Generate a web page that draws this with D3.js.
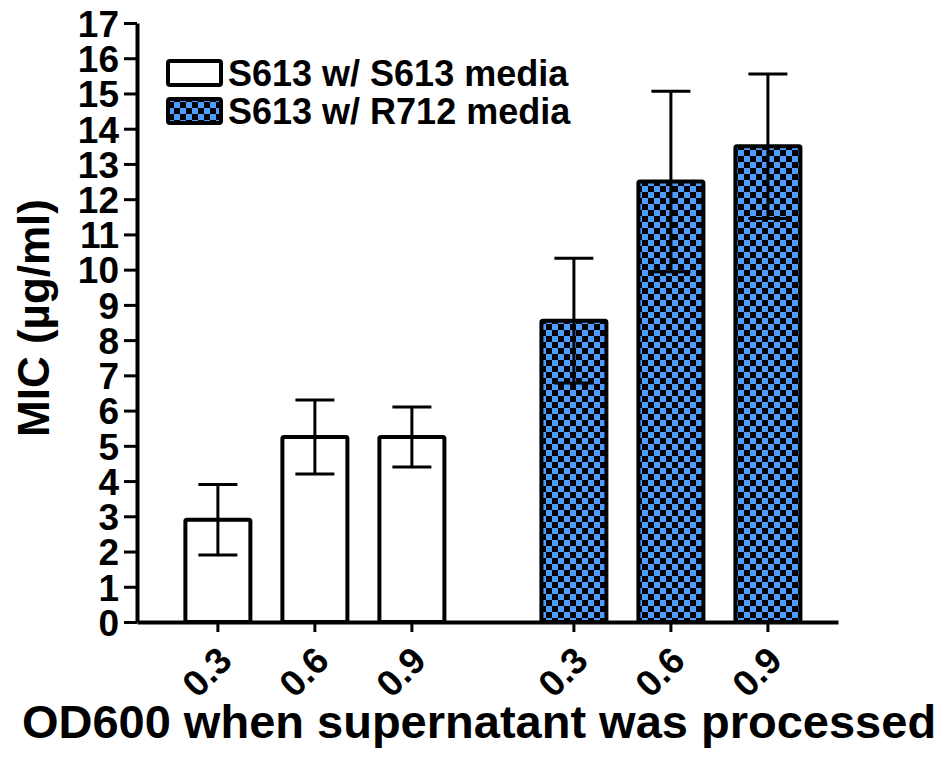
<!DOCTYPE html>
<html>
<head>
<meta charset="utf-8">
<script src="https://cdn.jsdelivr.net/npm/d3@7"></script>
<style>
  html, body { margin: 0; padding: 0; background: #fff; }
  svg { display: block; }
  text { font-family: "Liberation Sans", Arial, sans-serif; font-weight: bold; fill: #000; }
</style>
</head>
<body>
<svg id="chart" width="946" height="770"></svg>
<script>
// ---- data ----
const odLevels = ["0.3", "0.6", "0.9"];
const mediaGroups = ["S613 w/ S613 media", "S613 w/ R712 media"];
const meansS613 = [2.9, 5.25, 5.25];
const errS613 = [1.0, 1.05, 0.85];
const meansR712 = [8.55, 12.5, 13.5];
const errR712 = [1.77, 2.56, 2.05];
const yTickValues = [0, 1, 2, 3, 4, 5, 6, 7, 8, 9, 10, 11, 12, 13, 14, 15, 16, 17];
const yLabel = "MIC (µg/ml)";
const xLabel = "OD600 when supernatant was processed";

const seriesMeans = [meansS613, meansR712];
const seriesErrs = [errS613, errR712];
const rows = [];
mediaGroups.forEach((g, gi) => odLevels.forEach((od, i) => rows.push({
  group: g, od: od, mean: seriesMeans[gi][i], err: seriesErrs[gi][i], gi: gi
})));

const svg = d3.select("#chart");
const blue = "#4d9cff";

// pattern
const defs = svg.append("defs");
const pat = defs.append("pattern").attr("id", "checker")
  .attr("patternUnits", "userSpaceOnUse").attr("width", 12).attr("height", 12);
pat.append("rect").attr("width", 12).attr("height", 12).attr("fill", "#000");
pat.append("rect").attr("x", 0).attr("y", 0).attr("width", 6).attr("height", 6).attr("fill", blue);
pat.append("rect").attr("x", 6).attr("y", 6).attr("width", 6).attr("height", 6).attr("fill", blue);
const fills = ["#fff", "url(#checker)"];

// scales
const plotLeft = 137, plotRight = 838, plotBottom = 622, plotTop = 23;
const y = d3.scaleLinear().domain([0, 17]).range([plotBottom, plotTop]);
const x0 = d3.scaleBand().domain(mediaGroups).range([plotLeft, plotRight])
  .paddingInner(0.1826).paddingOuter(0.0758).align(0.6);
const x1 = d3.scaleBand().domain(odLevels).range([0, x0.bandwidth()])
  .paddingInner(0.33).paddingOuter(0.165);

// y axis
const yAxis = svg.append("g").attr("transform", `translate(${plotLeft},0)`)
  .call(d3.axisLeft(y).tickValues(yTickValues).tickSize(13).tickSizeOuter(0).tickPadding(5));
yAxis.select(".domain").attr("stroke", "#000").attr("stroke-width", 4);
yAxis.selectAll(".tick line").attr("stroke", "#000").attr("stroke-width", 3);
yAxis.selectAll(".tick text").style("font-size", "37px").attr("dy", "0.36em");

// bars
const gBars = svg.append("g");
gBars.selectAll("rect.bar").data(rows).join("rect").attr("class", "bar")
  .attr("x", d => x0(d.group) + x1(d.od))
  .attr("width", x1.bandwidth())
  .attr("y", d => y(d.mean))
  .attr("height", d => y(0) - y(d.mean))
  .attr("fill", d => fills[d.gi])
  .attr("stroke", "#000").attr("stroke-width", 4)
  .attr("rx", 1.5);

// error bars
const capHalf = 19.5;
const cx = d => x0(d.group) + x1(d.od) + x1.bandwidth() / 2;
const gErr = svg.append("g").attr("stroke", "#000").attr("stroke-width", 3);
gErr.selectAll("line.v").data(rows).join("line").attr("class", "v")
  .attr("x1", cx).attr("x2", cx)
  .attr("y1", d => y(d.mean - d.err)).attr("y2", d => y(d.mean + d.err));
gErr.selectAll("line.top").data(rows).join("line").attr("class", "top")
  .attr("x1", d => cx(d) - capHalf).attr("x2", d => cx(d) + capHalf)
  .attr("y1", d => y(d.mean + d.err)).attr("y2", d => y(d.mean + d.err));
gErr.selectAll("line.bot").data(rows).join("line").attr("class", "bot")
  .attr("x1", d => cx(d) - capHalf).attr("x2", d => cx(d) + capHalf)
  .attr("y1", d => y(d.mean - d.err)).attr("y2", d => y(d.mean - d.err));

// x axis: baseline
const xBase = svg.append("g").attr("transform", `translate(0,${plotBottom})`)
  .call(d3.axisBottom(x0).tickSize(0).tickSizeOuter(0).tickFormat(""));
xBase.select(".domain").attr("stroke", "#000").attr("stroke-width", 4);
xBase.selectAll(".tick").remove();

mediaGroups.forEach(g => {
  const ax = svg.append("g").attr("transform", `translate(${x0(g)},${plotBottom})`)
    .call(d3.axisBottom(x1).tickSize(10).tickSizeOuter(0));
  ax.select(".domain").remove();
  ax.selectAll(".tick line").attr("stroke", "#000").attr("stroke-width", 3);
  ax.selectAll(".tick text")
    .style("font-size", "37px")
    .attr("text-anchor", "middle")
    .attr("y", 0).attr("dy", 0)
    .attr("transform", "translate(-2,59) rotate(-45)");
});

// axis titles
svg.append("text").attr("transform", `translate(49,318) rotate(-90)`)
  .attr("text-anchor", "middle").style("font-size", "44px").text(yLabel);
svg.append("text").attr("x", 479).attr("y", 738)
  .attr("text-anchor", "middle").style("font-size", "47px").text(xLabel);

// legend
const legend = svg.append("g");
const ly = d3.scaleBand().domain(mediaGroups).range([60, 136]);
mediaGroups.forEach((g, i) => {
  legend.append("rect").attr("x", 168).attr("y", ly(g) + 1).attr("width", 53).attr("height", 24)
    .attr("fill", fills[i]).attr("stroke", "#000").attr("stroke-width", 4).attr("rx", 2);
  legend.append("text").attr("x", 228).attr("y", ly(g) + 26)
    .style("font-size", "36px").text(g);
});
</script>
</body>
</html>
